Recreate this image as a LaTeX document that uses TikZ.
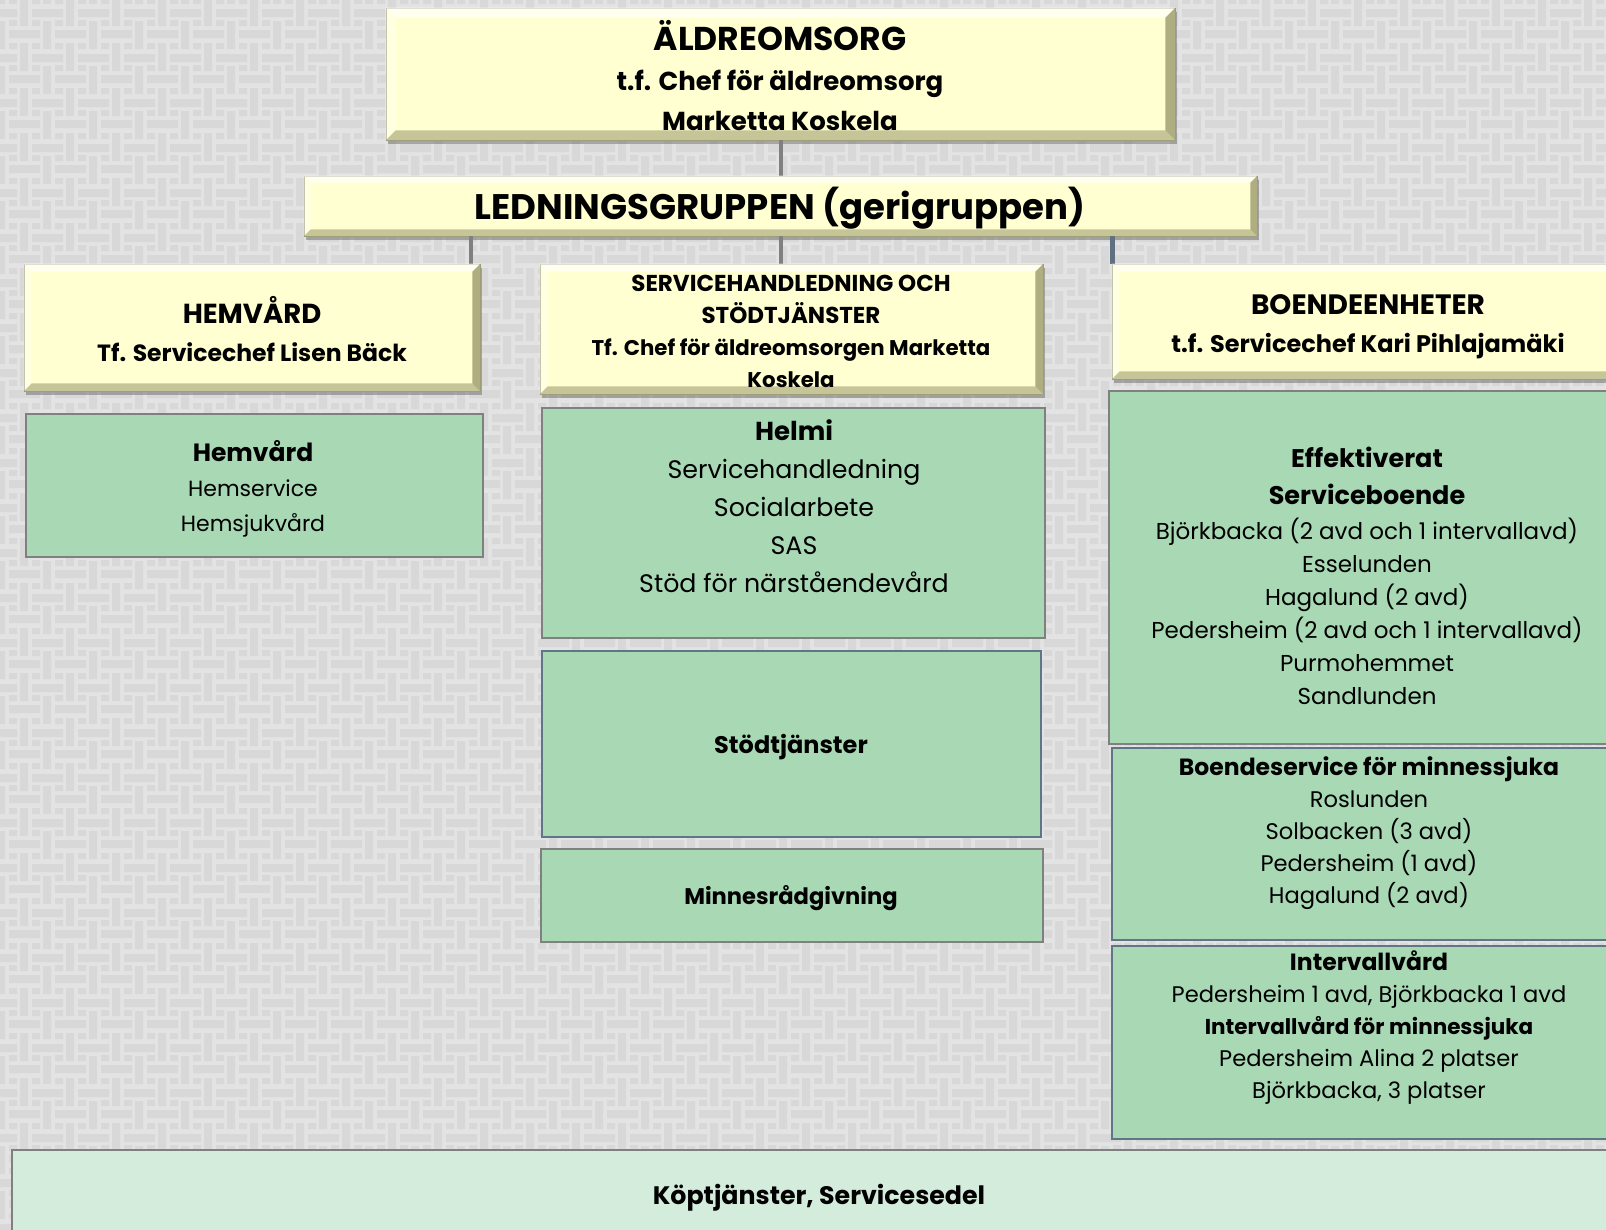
\documentclass[tikz,border=0pt]{standalone}
\usepackage{fontspec}
\setmainfont{Poppins}
\usetikzlibrary{calc,shadows}
\definecolor{bgbase}{RGB}{227,227,227}
\definecolor{bgbar}{RGB}{216,216,216}
\definecolor{byel}{RGB}{255,255,210}
\definecolor{bgreen}{RGB}{168,216,180}
\definecolor{bpale}{RGB}{212,236,220}
\definecolor{conn}{RGB}{128,128,128}
\definecolor{connb}{RGB}{96,112,128}
\definecolor{bevdark}{RGB}{140,140,96}
\definecolor{gborder}{RGB}{128,128,128}
\definecolor{gborderb}{RGB}{96,117,133}
\newcommand\boxnode[6][]{\node[#1, minimum width={#5-#3}, minimum height={#6-#4}] (#2) at ({(#3+#5)/2},{(#4+#6)/2}) {};}
\newcommand\bevel[2]{%
 \fill[white,opacity=.65] (#1.north west) -- (#1.north east) -- ($(#1.north east)+(-#2,#2)$) -- ($(#1.north west)+(#2,#2)$) -- cycle;
 \fill[white,opacity=.35] (#1.north west) -- ($(#1.north west)+(#2,#2)$) -- ($(#1.south west)+(#2,-#2)$) -- (#1.south west) -- cycle;
 \fill[bevdark,opacity=.5] (#1.south west) -- ($(#1.south west)+(#2,-#2)$) -- ($(#1.south east)+(-#2,-#2)$) -- (#1.south east) -- cycle;
 \fill[bevdark,opacity=.7] (#1.south east) -- ($(#1.south east)+(-#2,-#2)$) -- ($(#1.north east)+(-#2,#2)$) -- (#1.north east) -- cycle;
}
\begin{document}
\begin{tikzpicture}[x=1pt,y=-1pt,
  ybox/.style={draw=bevdark!80, line width=0.8pt, fill=byel, inner sep=0pt,
    drop shadow={shadow xshift=2pt,shadow yshift=-4pt,opacity=0.4,fill=black!70}},
  gbox/.style={draw=gborder, line width=2.5pt, fill=bgreen, inner sep=0pt},
  gboxb/.style={gbox, draw=gborderb},
  pbox/.style={draw=gborder, line width=2.5pt, fill=bpale, inner sep=0pt},
  link/.style={draw=conn, line width=4pt},
  linkb/.style={draw=connb, line width=5pt},
  txt/.style={align=center, inner sep=0pt, text=black}]
\useasboundingbox (0,0) rectangle (1606,1229);
\clip (0,0) rectangle (1606,1229);
% background weave
\fill[bgbase] (0,0) rectangle (1606,1229);
\foreach \j in {-1,...,27} {
 \fill[bgbar] \foreach \i in {-1,...,35} {
   ({46*\i+32},{45*\j+9}) rectangle ({46*\i+63},{45*\j+17})
   ({46*\i+9},{45*\j+30}) rectangle ({46*\i+40},{45*\j+38})
   ({46*\i+20},{45*\j-2}) rectangle ({46*\i+28},{45*\j+26})
   ({46*\i+43},{45*\j+21}) rectangle ({46*\i+51},{45*\j+49})
   ({46*\i+9},{45*\j-2}) rectangle ({46*\i+17},{45*\j+4})
   ({46*\i+32},{45*\j-2}) rectangle ({46*\i+40},{45*\j+4})
   ({46*\i+9},{45*\j+20}) rectangle ({46*\i+17},{45*\j+26})
   ({46*\i+32},{45*\j+20}) rectangle ({46*\i+40},{45*\j+26})
 };
}
% boxes
\boxnode[ybox]{top}{386}{8}{1175}{140}
\boxnode[ybox]{led}{304}{176}{1257}{236}
\coordinate (c1) at (471,264);
\coordinate (c3) at (1112,264);
\boxnode[ybox]{hem}{24}{264}{480}{391}
\boxnode[ybox]{svc}{540}{264}{1043}{394}
\boxnode[ybox]{boe}{1112}{264}{1625}{379}
% connectors
\draw[link] (top.south) -- (led.north);
\draw[link] (led.south -| c1) -- (c1);
\draw[link] (led.south) -- (led.south |- svc.north);
\draw[linkb] (led.south -| c3) -- (c3);
\bevel{top}{10}
\bevel{led}{7}
\bevel{hem}{8}
\bevel{svc}{8}
\bevel{boe}{8}
\boxnode[gbox]{hemg}{26}{414}{483}{557}
\boxnode[gbox]{helmi}{542}{408}{1045}{638}
\boxnode[gboxb]{stod}{542}{651}{1041}{837}
\boxnode[gbox]{minn}{541}{849}{1043}{942}
\boxnode[gbox]{eff}{1109}{391}{1625}{744}
\boxnode[gboxb]{bms}{1112}{748}{1625}{940}
\boxnode[gboxb]{intv}{1112}{946}{1625}{1139}
\boxnode[pbox]{kop}{12}{1150}{1625}{1245}
% texts
\node[txt, font=\fontsize{26}{40}\selectfont\bfseries] (ttop) at (780,76)
  {\fontsize{33}{40}\selectfont ÄLDREOMSORG\\ t.f. Chef för äldreomsorg\\ Marketta Koskela};
\node[txt, font=\fontsize{35.5}{40}\selectfont\bfseries] (tled) at (780,208) {LEDNINGSGRUPPEN (gerigruppen)};
\node[txt, font=\fontsize{23.5}{38}\selectfont\bfseries] (themh) at (252,329)
  {\fontsize{27.5}{38}\selectfont HEMVÅRD\\ Tf. Servicechef Lisen Bäck};
\node[txt, font=\fontsize{21.3}{32}\selectfont\bfseries] (tsvc) at (791,331)
  {\fontsize{23}{32}\selectfont SERVICEHANDLEDNING OCH\\ \fontsize{23}{32}\selectfont STÖDTJÄNSTER\\ Tf. Chef för äldreomsorgen Marketta\\ Koskela};
\node[txt, font=\fontsize{24}{38}\selectfont\bfseries] (tboe) at (1368,327)
  {\fontsize{28}{38}\selectfont BOENDEENHETER\\ t.f. Servicechef Kari Pihlajamäki};
\node[txt, font=\fontsize{22}{35}\selectfont] (themg) at (253,489)
  {\fontsize{25}{35}\selectfont\bfseries Hemvård\\ Hemservice\\ Hemsjukvård};
\node[txt, font=\fontsize{25.3}{38}\selectfont] (thelmi) at (794,506)
  {\fontsize{26}{38}\selectfont\bfseries Helmi\\ Servicehandledning\\ Socialarbete\\ SAS\\ Stöd för närståendevård};
\node[txt, font=\fontsize{24}{30}\selectfont\bfseries] (tstod) at (791,747) {Stödtjänster};
\node[txt, font=\fontsize{22.6}{30}\selectfont\bfseries] (tminn) at (791,898) {Minnesrådgivning};
\node[txt, font=\fontsize{23}{33}\selectfont] (teff) at (1367,576)
  {\fontsize{25.5}{33}\selectfont\bfseries Effektiverat\\[4pt] \fontsize{25.5}{33}\selectfont\bfseries Serviceboende\\[2pt]
   Björkbacka (2 avd och 1 intervallavd)\\ Esselunden\\ Hagalund (2 avd)\\
   Pedersheim (2 avd och 1 intervallavd)\\ Purmohemmet\\ Sandlunden};
\node[txt, font=\fontsize{22.6}{32}\selectfont] (tbms) at (1369,833)
  {\fontsize{23.5}{32}\selectfont\bfseries Boendeservice för minnessjuka\\ Roslunden\\ Solbacken (3 avd)\\
   Pedersheim (1 avd)\\ Hagalund (2 avd)};
\node[txt, font=\fontsize{22.6}{32}\selectfont] (tint) at (1369,1028)
  {\fontsize{23.5}{32}\selectfont\bfseries Intervallvård\\ Pedersheim 1 avd, Björkbacka 1 avd\\
   \fontsize{21.5}{32}\selectfont\bfseries Intervallvård för minnessjuka\\ Pedersheim Alina 2 platser\\ Björkbacka, 3 platser};
\node[txt, font=\fontsize{25.3}{30}\selectfont\bfseries] (tkop) at (819,1198) {Köptjänster, Servicesedel};
\end{tikzpicture}
\end{document}
